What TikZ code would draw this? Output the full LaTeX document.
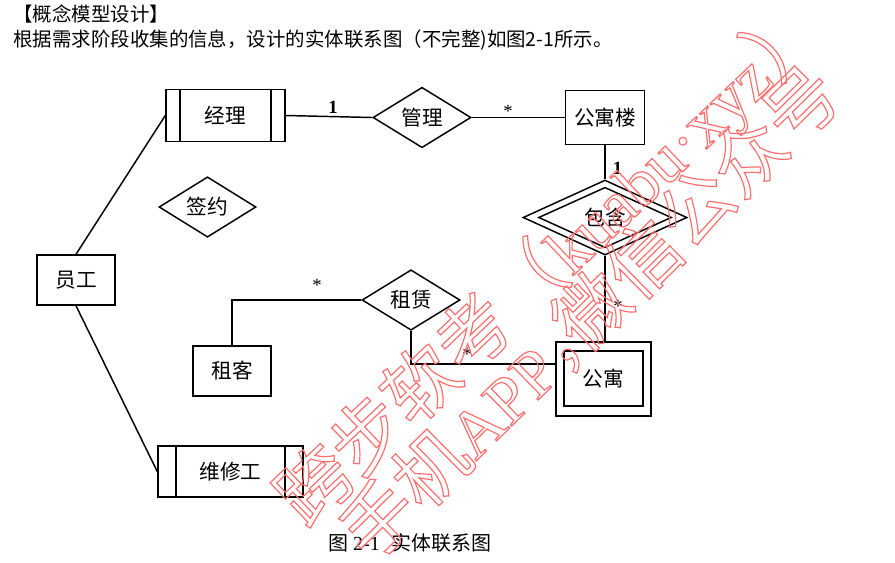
\documentclass[tikz,border=0pt]{standalone}
\usepackage{fontspec}
\setmainfont{Liberation Serif}
\newfontfamily\cjk{Noto Sans CJK SC}
\usetikzlibrary{shapes.geometric,calc}
\definecolor{wmred}{RGB}{255,110,110}
\newcommand{\wmon}{\special{pdf:literal direct 1 Tr 0.9 w}}
\newcommand{\wmoff}{\special{pdf:literal direct 0 Tr}}
\begin{document}
\begin{tikzpicture}[x=0.75pt,y=-0.75pt,
  ent/.style={draw,rectangle,line width=1.1pt,inner sep=0pt,font=\cjk\fontsize{15.5}{17}\selectfont},
  rel/.style={draw,diamond,line width=1.1pt,inner sep=0pt,font=\cjk\fontsize{15.5}{17}\selectfont},
  bars/.style={path picture={
     \draw[line width=1.1pt] ([xshift=#1]path picture bounding box.north west) -- ([xshift=#1]path picture bounding box.south west);
     \draw[line width=1.1pt] ([xshift=-#1]path picture bounding box.north east) -- ([xshift=-#1]path picture bounding box.south east);}},
  link/.style={line width=1.1pt},
  one/.style={inner sep=0pt,font=\bfseries\fontsize{14}{14}\selectfont},
  many/.style={inner sep=0pt,font=\fontsize{14}{14}\selectfont},
  head/.style={inner sep=0pt,anchor=west,font=\cjk\fontsize{14.6}{16}\selectfont},
  wm/.style={inner sep=0pt,anchor=west,text=wmred,font=\fontsize{50}{50}\selectfont}
]
\useasboundingbox (0,0) rectangle (895,562);

% header
\node[head] (h1) at (13,13.5) {【概念模型设计】};
\node[head] (h2) at (13,40) {根据需求阶段收集的信息，设计的实体联系图（不完整)如图2-1所示。};

% entities
\node[ent,bars=10.5pt,minimum width={119*0.75pt},minimum height={52*0.75pt}] (jl) at (225.5,115.5) {经理};
\node[ent,bars=13.5pt,minimum width={145*0.75pt},minimum height={51*0.75pt}] (wxg) at (230.5,471.5) {维修工};
\node[ent,minimum width={79*0.75pt},minimum height={54*0.75pt}] (gyl) at (605,117.5) {公寓楼};
\node[ent,minimum width={95*0.75pt},minimum height={74*0.75pt}] (gy) at (603.5,379) {};
\node[ent,minimum width={79*0.75pt},minimum height={55*0.75pt}] (gyin) at (603.5,378.5) {公寓};
\node[ent,minimum width={78*0.75pt},minimum height={50*0.75pt}] (zk) at (232,371) {租客};
\node[ent,minimum width={78*0.75pt},minimum height={50*0.75pt}] (yg) at (76,280) {员工};

% relationships
\node[rel,minimum width={98*0.75pt},minimum height={60*0.75pt}] (gl) at (422,117.5) {管理};
\node[rel,minimum width={164*0.75pt},minimum height={75*0.75pt}] (bh) at (605,217.5) {};
\node[rel,minimum width={133*0.75pt},minimum height={60*0.75pt}] (bhin) at (605,217.5) {包含};
\node[rel,minimum width={98*0.75pt},minimum height={58*0.75pt}] (zl) at (411,300) {租赁};
\node[rel,minimum width={97*0.75pt},minimum height={58*0.75pt}] (qy) at (207.5,207) {签约};

% connectors
\draw[link] (jl.east) -- (gl.west);
\draw[link] (gl.east) -- (gyl.west);
\draw[link] (gyl.south) -- (bh.north);
\draw[link] (bh.south) -- (bh.south |- gy.north);
\draw[link] (zl.west) -| (zk.north);
\draw[link] (zl.south) |- ([yshift=11.25pt]gy.west);
\draw[link] (yg.north) -- (jl.west);
\draw[link] (yg.south) -- (wxg.west);

% cardinalities
\node[one] (c1) at (333,107.5) {1};
\node[one] (c2) at (617.5,168.5) {1};
\node[many] (s1) at (508,111) {*};
\node[many] (s2) at (618,306) {*};
\node[many] (s3) at (317,285) {*};
\node[many] (s4) at (467,354) {*};

% caption
\node[inner sep=0pt,font=\fontsize{15}{16}\selectfont] (cap) at (410,543) {{\cjk 图} 2-1\hspace{0.6em}{\cjk 实体联系图}};

% watermark
\begin{scope}
\clip (0,0) rectangle (895,562);
\node[wm,rotate=43.5] (wm1) at (289,512) {\wmon{\cjk\fontsize{55}{55}\selectfont 跨步软考（}kuabu·xyz{\cjk\fontsize{55}{55}\selectfont ）}\wmoff};
\node[wm,rotate=44.5] (wm2) at (352,545) {\wmon{\cjk\fontsize{55}{55}\selectfont 手机}APP{\cjk\fontsize{55}{55}\selectfont \makebox[0.4em][l]{，}微信公众号}\wmoff};
\end{scope}
\end{tikzpicture}
\end{document}
